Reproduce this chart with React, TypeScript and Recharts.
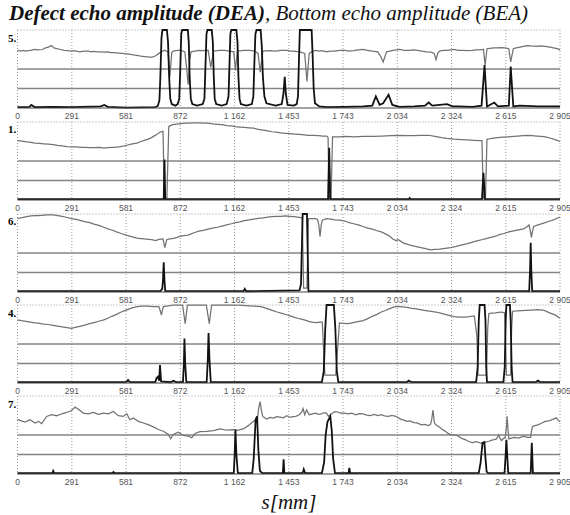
import { LineChart, Line, XAxis, YAxis, CartesianGrid, ReferenceLine } from "recharts";

// [s in mm, amplitude in % of screen height]
type Pt = [number, number];

const S_TICKS = [0, 291, 581, 872, 1162, 1453, 1743, 2034, 2324, 2615, 2905];
const THRESHOLDS = [25, 50];
const PANEL_LABELS = ["5.", "1.", "6.", "4.", "7."];

// panel 5.
const BEA_5: Pt[] = [
  [0, 74], [15, 73], [30, 74], [45, 73], [55, 73.5], [70, 74], [90, 75], [110, 74.5], [133, 75],
  [150, 77], [165, 78], [182, 80], [195, 77], [211, 76], [230, 75], [250, 74], [270, 73.5],
  [289, 73], [305, 73.5], [320, 72.5], [335, 72], [347, 72.5], [365, 73], [380, 73], [395, 72],
  [406, 72.5], [425, 72], [445, 72], [465, 71.5], [484, 72], [500, 71], [520, 71], [540, 70.5],
  [562, 70], [580, 69.5], [600, 69], [620, 68], [640, 67.5], [660, 66.5], [680, 66], [700, 65.5],
  [718, 65], [740, 67], [757, 70], [787, 74], [806, 72], [816, 40], [826, 71], [835, 73],
  [855, 74], [875, 74], [896, 72], [904, 55], [914, 30], [922, 60], [929, 72], [950, 73],
  [972, 74], [995, 73.5], [1021, 74], [1035, 52], [1050, 73], [1080, 74], [1109, 74], [1135, 73],
  [1158, 72], [1167, 48], [1177, 73], [1210, 74], [1245, 74], [1270, 73], [1288, 70], [1300, 46],
  [1314, 73], [1350, 73.5], [1382, 73], [1410, 74], [1441, 74], [1460, 73], [1480, 73],
  [1510, 72], [1538, 70], [1550, 34], [1562, 70], [1580, 73], [1597, 74], [1615, 73],
  [1630, 73.5], [1655, 72], [1675, 73], [1700, 73], [1725, 74], [1753, 74], [1775, 73],
  [1800, 73.5], [1825, 74.5], [1851, 75], [1875, 74], [1900, 73], [1929, 72], [1945, 66],
  [1958, 59], [1970, 68], [1977, 72], [1995, 73], [2010, 74], [2030, 74.5], [2046, 75],
  [2070, 74], [2100, 74], [2120, 74.5], [2143, 74], [2165, 73], [2190, 72], [2215, 71.5],
  [2231, 70], [2241, 62], [2250, 70], [2260, 73], [2280, 74], [2300, 74], [2320, 74.5],
  [2338, 75], [2360, 74], [2390, 74], [2410, 73.5], [2436, 74], [2455, 74.5], [2470, 74.5],
  [2495, 75], [2504, 55], [2514, 76], [2530, 76.5], [2550, 77], [2570, 77], [2592, 77.5],
  [2610, 77], [2631, 76], [2641, 59], [2655, 76], [2670, 77], [2690, 78], [2710, 79], [2729, 80],
  [2750, 79.5], [2780, 79], [2800, 79.5], [2826, 79], [2850, 78], [2870, 77], [2890, 76],
  [2905, 74.5],
];
const DEA_5: Pt[] = [
  [0, 1], [45, 1], [64, 1.5], [74, 4], [94, 1], [191, 1.5], [289, 1], [445, 2], [465, 4],
  [484, 1.5], [582, 0.5], [738, 1], [752, 3],
  [760, 10], [765, 40], [771, 90], [776, 100], [800, 100], [806, 85], [812, 40], [818, 12],
  [826, 5], [845, 3], [858, 5],
  [866, 12], [871, 45], [877, 95], [882, 100], [912, 100], [917, 85], [922, 40], [928, 12],
  [936, 5], [962, 3], [992, 5],
  [1001, 12], [1006, 50], [1012, 95], [1017, 100], [1040, 100], [1046, 85], [1051, 40],
  [1056, 12], [1064, 5], [1093, 3], [1120, 5],
  [1130, 15], [1135, 55], [1140, 95], [1145, 100], [1172, 100], [1178, 85], [1183, 40],
  [1189, 12], [1196, 5], [1226, 3], [1255, 5],
  [1263, 15], [1268, 55], [1274, 95], [1280, 100], [1302, 100], [1308, 80], [1314, 40],
  [1322, 15], [1333, 6], [1382, 3], [1415, 5],
  [1424, 18], [1431, 40], [1437, 18], [1446, 4], [1480, 3], [1495, 5],
  [1502, 15], [1507, 60], [1512, 100], [1575, 100], [1580, 70], [1586, 25], [1593, 6],
  [1616, 2], [1655, 1], [1753, 1.5], [1851, 2], [1900, 3], [1919, 15], [1939, 4], [1958, 6],
  [1987, 17], [2007, 4], [2046, 1.5], [2124, 2], [2182, 3], [2202, 7], [2221, 3], [2300, 5],
  [2329, 2], [2358, 2], [2436, 1.5], [2485, 3], [2501, 55], [2514, 2], [2553, 7], [2573, 2],
  [2631, 3], [2641, 53], [2655, 2], [2690, 3], [2787, 2], [2905, 2],
];

// panel 1.
const BEA_1: Pt[] = [
  [0, 76], [25, 75.5], [50, 74.5], [72, 74], [94, 73], [118, 72.5], [140, 72], [165, 71.5],
  [191, 71], [215, 70], [240, 69.5], [265, 68.5], [289, 68], [315, 68], [340, 67.5], [365, 67.5],
  [387, 67], [410, 67], [440, 67.5], [462, 66.5], [484, 67], [515, 67.5], [543, 68], [565, 69],
  [590, 70.5], [615, 72], [640, 73], [660, 75], [680, 76.5], [700, 78], [718, 80], [735, 82.5],
  [745, 84], [757, 86], [767, 87.5], [779, 88], [787, 2], [800, 3], [810, 94], [816, 95],
  [830, 96.5], [845, 97], [860, 97.5], [875, 98], [898, 98.5], [920, 98.5], [945, 99], [972, 99],
  [995, 98.5], [1020, 98.5], [1045, 97.5], [1070, 97], [1095, 96.5], [1120, 95.5], [1145, 95],
  [1167, 94], [1190, 93.5], [1215, 93], [1240, 92.5], [1265, 92], [1290, 90.5], [1315, 89.5],
  [1340, 88.5], [1363, 87.5], [1385, 87], [1410, 86], [1435, 85.5], [1460, 85], [1485, 84.5],
  [1510, 84], [1535, 83.5], [1558, 83], [1585, 83], [1610, 82.5], [1635, 82], [1655, 82],
  [1663, 80], [1669, 1], [1679, 2], [1687, 81], [1720, 81], [1760, 81.5], [1800, 81],
  [1851, 81.5], [1900, 81.5], [1950, 82], [2000, 82.5], [2046, 83], [2080, 82.5], [2120, 82.5],
  [2160, 83], [2202, 83], [2235, 81.5], [2270, 80], [2300, 79], [2338, 78], [2375, 77.5],
  [2410, 77], [2445, 76.5], [2475, 76], [2487, 76], [2495, 2], [2506, 3], [2514, 78], [2540, 79],
  [2570, 80], [2600, 80.5], [2631, 81], [2655, 81.5], [2680, 82], [2705, 82.5], [2729, 83],
  [2755, 82.5], [2780, 82], [2805, 81.5], [2826, 81], [2850, 79.5], [2870, 78], [2890, 76.5],
  [2905, 75],
];
const DEA_1: Pt[] = [
  [0, 1], [783, 1], [787, 52], [791, 1], [1663, 1], [1669, 67], [1675, 1], [2095, 1],
  [2100, 2.5], [2105, 1], [2487, 1], [2495, 35], [2503, 1], [2905, 1],
];

// panel 6.
const BEA_6: Pt[] = [
  [0, 94], [25, 95.5], [50, 96.5], [72, 97.5], [94, 98], [118, 98], [140, 98.5], [165, 99],
  [191, 99], [215, 98], [240, 97], [265, 95.5], [289, 94], [315, 93], [340, 91.5], [365, 90],
  [387, 89], [410, 87], [440, 85], [462, 83], [484, 81], [505, 79.5], [530, 77], [555, 75],
  [582, 73], [596, 72], [610, 71], [625, 70], [640, 69], [660, 68.5], [680, 68], [700, 67.5],
  [718, 67], [740, 66], [757, 67.5], [779, 68], [789, 57], [799, 67], [815, 68], [830, 68.5],
  [855, 70], [870, 71.5], [885, 72], [900, 72.5], [914, 73], [930, 74.5], [945, 76], [972, 78],
  [995, 79], [1020, 80.5], [1045, 82], [1070, 83], [1095, 84.5], [1120, 86], [1145, 87.5],
  [1167, 89], [1190, 90], [1215, 91.5], [1240, 92.5], [1265, 93.5], [1290, 94.5], [1315, 95],
  [1340, 96], [1363, 96.5], [1385, 97], [1410, 97], [1435, 97.5], [1460, 97], [1480, 96.5],
  [1500, 96], [1525, 95], [1532, 5], [1550, 5], [1558, 94], [1577, 94], [1595, 94],
  [1607, 93], [1614, 85], [1620, 71], [1626, 85], [1632, 92], [1655, 94], [1680, 93.5],
  [1700, 92.5], [1725, 92], [1753, 91], [1775, 89], [1800, 87.5], [1825, 86], [1851, 84],
  [1875, 82], [1900, 80.5], [1925, 78.5], [1948, 77], [1970, 74.5], [1990, 72], [2010, 68],
  [2026, 66], [2040, 67], [2065, 63], [2085, 61.5], [2104, 60], [2130, 58.5], [2160, 57],
  [2185, 55.5], [2212, 54], [2235, 54.5], [2260, 55], [2290, 56], [2319, 57], [2350, 58.5],
  [2380, 60.5], [2410, 62], [2436, 64], [2460, 65.5], [2485, 67], [2510, 68.5], [2534, 70],
  [2560, 71.5], [2580, 73.5], [2605, 75], [2631, 77], [2650, 78], [2670, 79], [2690, 80],
  [2709, 81], [2725, 83], [2739, 86], [2745, 80], [2752, 70], [2758, 78], [2764, 84],
  [2780, 85.5], [2800, 87], [2826, 89], [2850, 91], [2870, 92.5], [2890, 94.5], [2905, 96],
];
const DEA_6: Pt[] = [
  [0, 1], [766, 1], [775, 4], [779, 15], [783, 38], [787, 15], [791, 1], [1210, 1], [1217, 4],
  [1224, 1], [1510, 2], [1518, 10], [1524, 70], [1527, 100], [1550, 100], [1554, 50],
  [1558, 1], [2740, 1], [2745, 30], [2748, 63], [2751, 30], [2756, 1], [2905, 1],
];

// panel 4.
const BEA_4: Pt[] = [
  [0, 81], [20, 80], [45, 79], [70, 78], [94, 77], [118, 76.5], [140, 75.5], [165, 75],
  [191, 74], [215, 73], [240, 72], [265, 71], [289, 70], [315, 71.5], [340, 73], [365, 74.5],
  [387, 76], [410, 77.5], [440, 79.5], [462, 81], [484, 83], [505, 85.5], [530, 88], [555, 91],
  [582, 93.5], [610, 96], [640, 98], [670, 98.5], [700, 98.5], [730, 98], [757, 98], [764, 93],
  [771, 87], [776, 93], [781, 98], [810, 99], [835, 100], [884, 100], [891, 88], [898, 76],
  [904, 88], [910, 100], [960, 100], [1011, 100], [1019, 88], [1027, 76], [1033, 88],
  [1040, 100], [1100, 100], [1167, 100], [1205, 99.5], [1240, 99], [1270, 98.5], [1304, 98],
  [1330, 96], [1360, 93.5], [1390, 91], [1421, 89], [1440, 87.5], [1460, 86], [1480, 84.5],
  [1499, 83], [1520, 82], [1540, 80.5], [1560, 79], [1577, 78], [1600, 77.5], [1620, 78],
  [1632, 78], [1646, 10], [1704, 10], [1724, 77], [1745, 76.5], [1772, 76], [1790, 77],
  [1810, 78], [1830, 79], [1851, 80], [1875, 82.5], [1900, 85.5], [1925, 88], [1948, 91],
  [1970, 93], [1990, 95], [2010, 97], [2026, 98], [2045, 98], [2065, 97.5], [2085, 97],
  [2104, 96], [2135, 95], [2170, 93.5], [2205, 92], [2241, 91], [2265, 89.5], [2290, 88],
  [2315, 86.5], [2338, 85], [2365, 84.5], [2397, 84.5], [2420, 85], [2446, 86], [2460, 60],
  [2466, 10], [2511, 10], [2518, 70], [2524, 89], [2540, 89.5], [2560, 90], [2575, 90.5],
  [2592, 91], [2608, 90], [2613, 60], [2618, 10], [2641, 10], [2646, 70], [2651, 92],
  [2680, 92.5], [2720, 93], [2750, 93.5], [2787, 94], [2820, 93], [2850, 90], [2880, 87],
  [2905, 83],
];
const DEA_4: Pt[] = [
  [0, 1], [582, 1], [592, 4], [602, 1], [738, 1], [744, 6], [752, 8], [759, 3], [763, 23],
  [769, 2], [820, 1], [835, 3], [850, 1], [886, 1], [891, 25], [894, 57], [898, 25], [904, 1],
  [1013, 1], [1019, 30], [1023, 64], [1028, 30], [1035, 1], [1630, 1], [1640, 15], [1648, 70],
  [1655, 100], [1694, 100], [1702, 70], [1710, 15], [1718, 1], [2085, 1], [2095, 3],
  [2110, 1], [2456, 1], [2464, 20], [2470, 80], [2475, 100], [2501, 100], [2506, 80],
  [2510, 20], [2514, 1], [2602, 1], [2609, 20], [2614, 80], [2618, 100], [2637, 100],
  [2641, 80], [2646, 20], [2651, 1], [2775, 1], [2787, 3], [2800, 1], [2905, 1],
];

// panel 7.
const BEA_7: Pt[] = [
  [0, 70], [13, 68.7], [40, 66.7], [67, 69.6], [94, 65.4], [112, 67.5], [129, 64.6],
  [156, 73.8], [183, 76], [210, 74.7], [237, 77.2], [263, 78.9], [290, 81.4], [308, 85.7],
  [326, 83.1], [352, 78.1], [379, 77.2], [406, 78.9], [433, 76.4], [460, 78.1], [486, 77.2],
  [513, 80.2], [540, 74.7], [567, 73.8], [585, 77.2], [602, 69.6], [620, 71.7], [647, 67.5],
  [674, 65.4], [700, 63.3], [727, 60.4], [754, 57], [781, 54.8], [808, 50.6], [820, 45.2],
  [834, 50.6], [861, 53.5], [888, 49.4], [915, 48.5], [933, 46.5], [951, 51.9], [977, 54.4],
  [1013, 54.8], [1049, 55.7], [1084, 57.8], [1120, 56.1], [1156, 57], [1177, 56], [1209, 57.8],
  [1236, 62], [1263, 67.5], [1284, 69.6], [1292, 85], [1299, 92.8], [1306, 82], [1313, 73.8],
  [1334, 70.5], [1352, 72.5], [1370, 71.7], [1388, 73.5], [1406, 73], [1424, 72], [1441, 74.7],
  [1460, 72.5], [1475, 73.5], [1490, 74], [1509, 76], [1523, 80], [1529, 84], [1538, 76],
  [1548, 82], [1562, 76], [1580, 77], [1597, 78], [1612, 76.5], [1626, 77], [1640, 78.5],
  [1655, 78], [1665, 74], [1685, 78], [1700, 80], [1714, 79.5], [1730, 78], [1753, 78],
  [1770, 77], [1790, 78], [1812, 76], [1830, 77.5], [1851, 77], [1870, 75.5], [1890, 75],
  [1910, 76.5], [1930, 75], [1948, 76], [1965, 74.5], [1987, 74], [2005, 75], [2026, 74],
  [2040, 72], [2055, 70], [2070, 69], [2085, 67.5], [2100, 68], [2124, 66], [2140, 65.5],
  [2163, 63], [2180, 63.5], [2202, 62], [2212, 64], [2218, 70], [2225, 82], [2232, 66],
  [2240, 63], [2260, 60], [2275, 57], [2290, 55], [2305, 52], [2319, 50.6], [2340, 50],
  [2358, 49], [2375, 46], [2397, 44], [2415, 42], [2436, 40], [2450, 41.5], [2466, 41],
  [2480, 39.5], [2495, 40], [2510, 41], [2524, 42], [2540, 43.5], [2553, 44], [2565, 45],
  [2577, 50], [2585, 45], [2592, 43], [2605, 46], [2612, 47], [2618, 60], [2622, 74],
  [2627, 55], [2631, 45], [2645, 46], [2661, 47], [2685, 46], [2709, 48.5], [2730, 47],
  [2748, 47], [2752, 55], [2758, 61], [2770, 62], [2787, 63], [2805, 65], [2826, 67.5],
  [2845, 68], [2866, 70], [2885, 72], [2895, 69], [2905, 67],
];
const DEA_7: Pt[] = [
  [0, 1], [187, 1], [191, 4], [197, 1], [508, 1], [514, 2.5], [520, 1], [1158, 1], [1163, 25],
  [1167, 57], [1172, 25], [1180, 1], [1257, 1], [1265, 20], [1275, 70], [1283, 74], [1290, 30],
  [1298, 4], [1310, 1], [1421, 1], [1425, 19], [1429, 1], [1527, 1], [1533, 6], [1540, 1],
  [1630, 1], [1642, 15], [1650, 50], [1660, 67], [1675, 74], [1683, 55], [1690, 20], [1700, 1],
  [1773, 1], [1777, 8], [1781, 1], [2470, 1], [2480, 15], [2490, 40], [2500, 41], [2506, 20],
  [2512, 3], [2520, 1], [2608, 1], [2614, 25], [2618, 44], [2622, 25], [2628, 1], [2748, 1],
  [2754, 40], [2760, 1], [2905, 1],
];

const SERIES: [Pt[], Pt[]][] = [
  [BEA_5, DEA_5],
  [BEA_1, DEA_1],
  [BEA_6, DEA_6],
  [BEA_4, DEA_4],
  [BEA_7, DEA_7],
];

// top of each plot area, px
const PANEL_TOPS = [30, 121.5, 213.5, 305, 396];
const PLOT_H = 78;

const fmtS = (v: number) =>
  v < 1000 ? String(v) : `${Math.floor(v / 1000)}\u00a0${String(v % 1000).padStart(3, "0")}`;

const rows = (pts: Pt[]) => pts.map(([s, v]) => ({ s, v }));

function Panel({ label, bea, dea, top }: { label: string; bea: Pt[]; dea: Pt[]; top: number }) {
  return (
    <div style={{ position: "absolute", left: 0, top: top - 2 }}>
      <LineChart width={570} height={PLOT_H + 18} margin={{ top: 2, right: 10, bottom: 0, left: 17.5 }}>
        <CartesianGrid horizontal={false} stroke="#9a9a9a" strokeDasharray="1 2" />
        <XAxis
          dataKey="s"
          type="number"
          domain={[0, 2905]}
          ticks={S_TICKS}
          interval={0}
          tickFormatter={fmtS}
          tickLine={false}
          tickSize={3}
          height={16}
          axisLine={{ stroke: "#444" }}
          tick={{ fontSize: 8.5, fill: "#555", fontFamily: "'Liberation Sans', Arial, sans-serif" }}
        />
        <YAxis hide domain={[0, 100]} />
        <ReferenceLine y={100} stroke="#9a9a9a" strokeDasharray="1 2" />
        {THRESHOLDS.map((t) => (
          <ReferenceLine key={t} y={t} stroke="#848484" strokeWidth={1.7} />
        ))}
        <Line data={rows(bea)} dataKey="v" type="linear" stroke="#727272" strokeWidth={1.25} dot={false} isAnimationActive={false} />
        <Line data={rows(dea)} dataKey="v" type="linear" stroke="#121212" strokeWidth={1.8} dot={false} isAnimationActive={false} />
      </LineChart>
      <div style={{ position: "absolute", left: 8, top: 4.5, font: "bold 11px 'Liberation Serif', serif", lineHeight: "11px" }}>
        {label}
      </div>
    </div>
  );
}

export default function App() {
  return (
    <div style={{ position: "absolute", left: 0, top: 0, width: 570, height: 515, background: "#fff", overflow: "hidden" }}>
      <div
        style={{
          position: "absolute",
          left: 9,
          top: 3,
          fontFamily: "'Liberation Serif', 'Times New Roman', serif",
          fontSize: 21,
          lineHeight: "21px",
          fontStyle: "italic",
          whiteSpace: "nowrap",
          color: "#111",
        }}
      >
        <b>Defect echo amplitude (DEA)</b>, Bottom echo amplitude (BEA)
      </div>
      {SERIES.map(([bea, dea], i) => (
        <Panel key={PANEL_LABELS[i]} label={PANEL_LABELS[i]} bea={bea} dea={dea} top={PANEL_TOPS[i]} />
      ))}
      <div
        style={{
          position: "absolute",
          left: 239,
          width: 100,
          top: 492,
          textAlign: "center",
          fontFamily: "'Liberation Serif', 'Times New Roman', serif",
          fontSize: 21,
          lineHeight: "21px",
          fontStyle: "italic",
          color: "#111",
        }}
      >
        s[mm]
      </div>
    </div>
  );
}
